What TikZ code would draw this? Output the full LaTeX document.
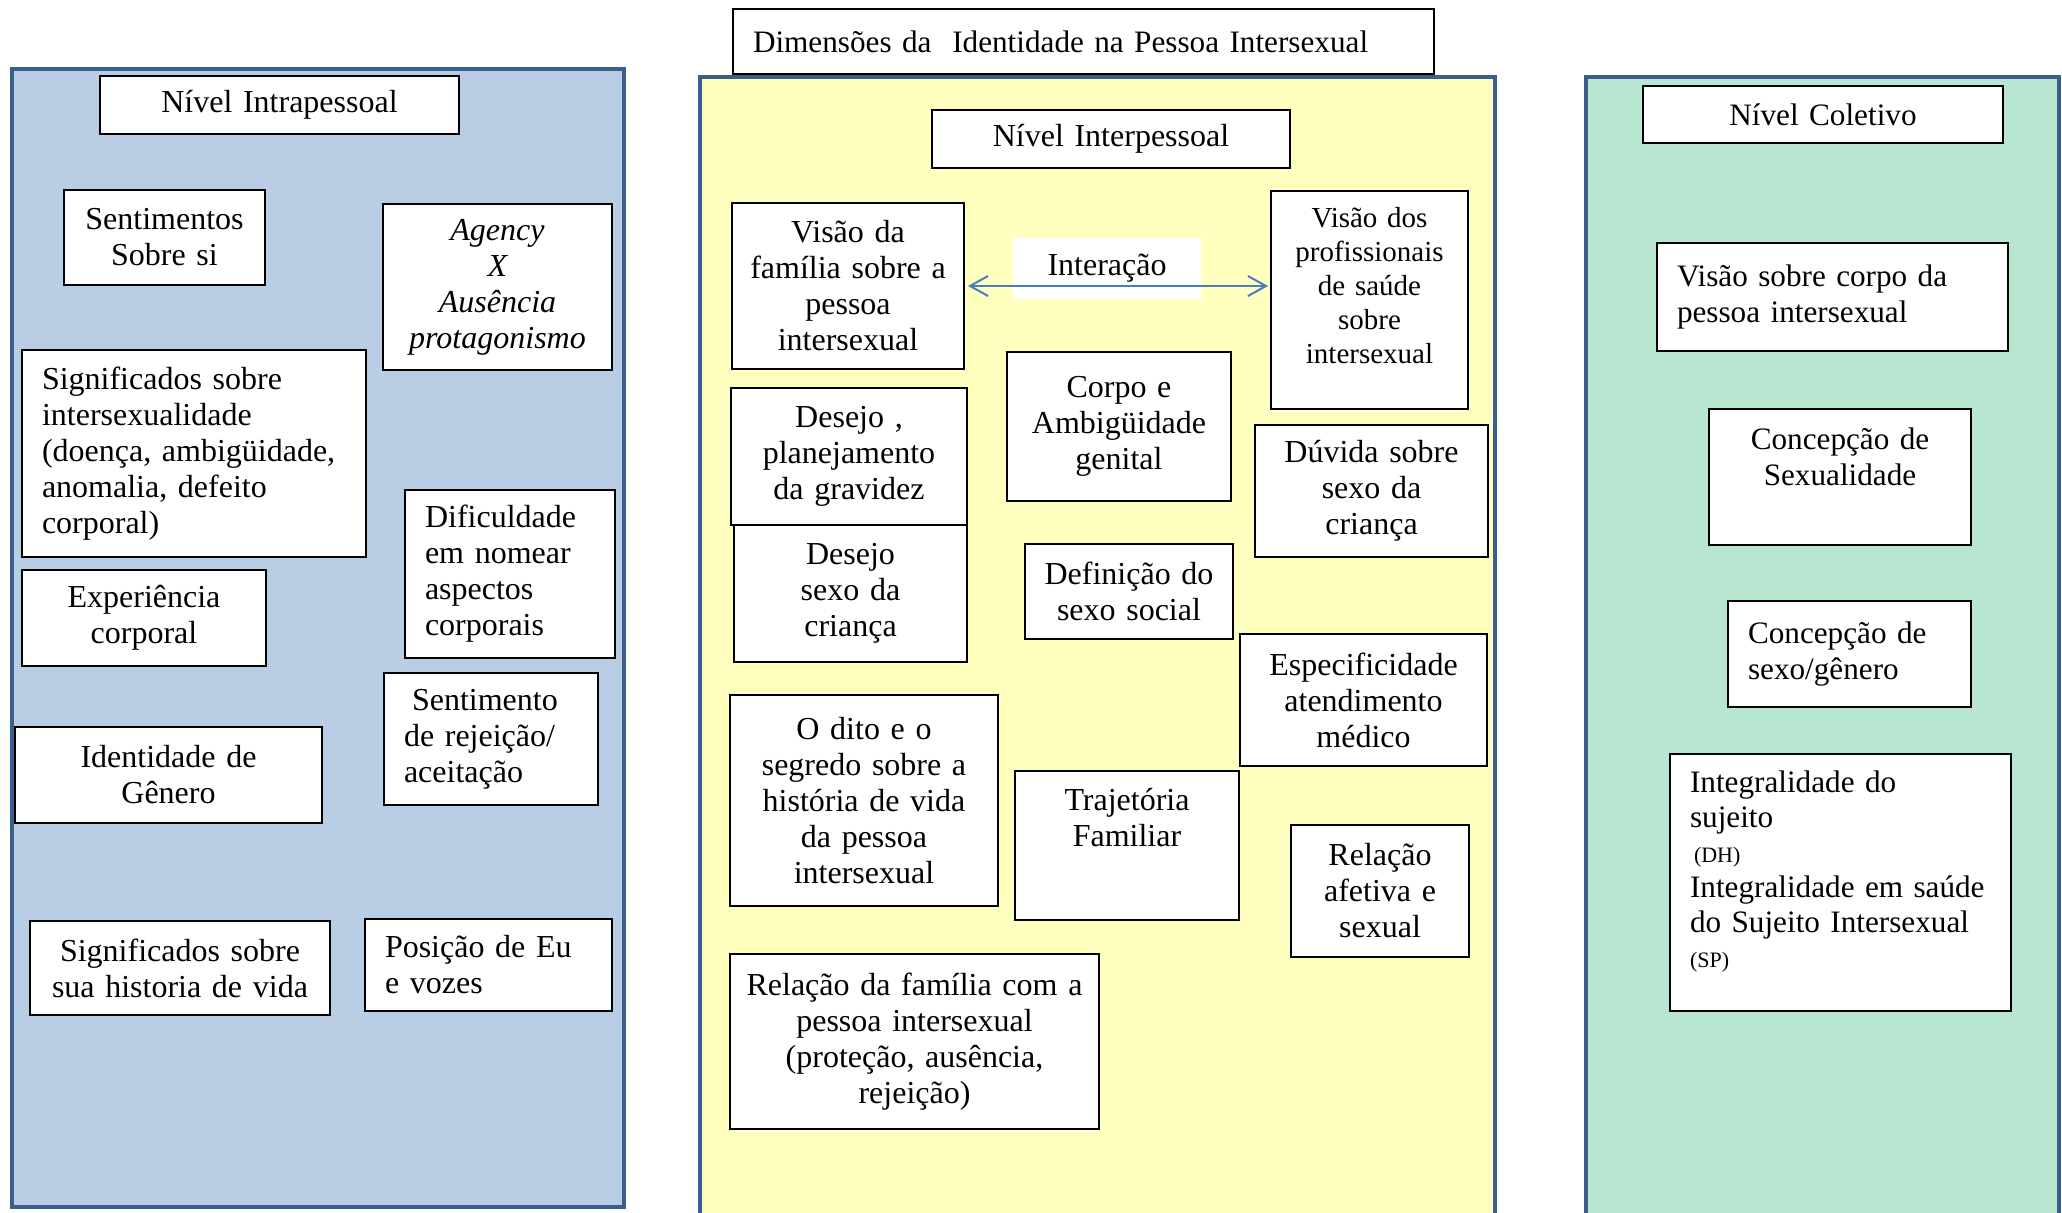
\documentclass[tikz,border=0pt]{standalone}
\usepackage{fontspec}
\setmainfont{Liberation Serif}
\usepackage{xcolor}
\usepackage{tikz}
\usetikzlibrary{arrows.meta,positioning}

\definecolor{azulpainel}{HTML}{B9CDE5}
\definecolor{amarelopainel}{HTML}{FFFFC0}
\definecolor{verdepainel}{HTML}{B9E6D0}
\definecolor{bordapainel}{HTML}{3A5F8B}
\definecolor{azulseta}{HTML}{4A7EBB}

\tikzset{
  painel/.style={draw=bordapainel, line width=2pt},
  caixa/.style={draw=black, line width=1pt, fill=white, anchor=north west,
    inner xsep=4pt, inner ysep=2pt, align=center,
    font=\fontsize{16}{18}\selectfont},
  caixaesq/.style={caixa, inner xsep=10pt, align=left},
  coletiva/.style={font=\fontsize{15.6}{18}\selectfont},
  seta/.style={<->, draw=azulseta, line width=1pt,
    >={Straight Barb[length=9pt,width=10pt]}}
}

\begin{document}
\begin{tikzpicture}[x=0.5pt,y=-0.5pt]
\useasboundingbox (0,0) rectangle (2062,1213);
\clip (0,0) rectangle (2062,1213);
%%the three panels
\draw[painel, fill=azulpainel] (12,69) rectangle (624,1207);
\draw[painel, fill=amarelopainel] (700,77) rectangle (1495,1260);
\draw[painel, fill=verdepainel] (1586,77) rectangle (2059,1260);
\node[caixaesq, minimum width=350.5pt, minimum height=32.5pt, text width=330.5pt,
  font=\fontsize{15.6}{18}\selectfont]
  (titulo) at (732,8) {Dimensões da\ \ Identidade na Pessoa Intersexual};
%%left panel
\node[caixa, minimum width=179.5pt, minimum height=29pt, text width=171.5pt]
  (intra) at (99,75) {Nível Intrapessoal};
\node[caixa, minimum width=100.5pt, minimum height=47.5pt, text width=92.5pt]
  (sentsi) at (63,189) {Sentimentos\\Sobre si};
\node[caixa, minimum width=114.5pt, minimum height=83pt, text width=106.5pt]
  (agency) at (382,203) {\itshape Agency\\X\\Ausência\\protagonismo};
\node[caixaesq, minimum width=172pt, minimum height=103.5pt, text width=152pt]
  (signif) at (21,349) {Significados sobre\\intersexualidade\\(doença, ambigüidade,\\anomalia, defeito\\corporal)};
\node[caixaesq, minimum width=105pt, minimum height=84pt, text width=85pt]
  (dificul) at (404,489) {Dificuldade\\em nomear\\aspectos\\corporais};
\node[caixa, minimum width=122pt, minimum height=48pt, text width=114pt]
  (experi) at (21,569) {Experiência\\corporal};
\node[caixaesq, minimum width=107pt, minimum height=66pt, text width=87pt]
  (rejeicao) at (383,672) {\hspace*{4pt}Sentimento\\de rejeição/\\aceitação};
\node[caixa, minimum width=153.5pt, minimum height=48pt, text width=145.5pt]
  (genero) at (14,726) {Identidade de\\Gênero};
\node[caixa, minimum width=150pt, minimum height=47pt, text width=142pt]
  (histvida) at (29,920) {Significados sobre\\sua historia de vida};
\node[caixaesq, minimum width=123.5pt, minimum height=46pt, text width=103.5pt]
  (posicao) at (364,918) {Posição de Eu\\e vozes};
%%middle panel
\node[caixa, minimum width=179pt, minimum height=29pt, text width=171pt]
  (inter) at (931,109) {Nível Interpessoal};
\node[caixa, minimum width=116pt, minimum height=83pt, text width=108pt]
  (famil) at (731,202) {Visão da\\família sobre a\\pessoa\\intersexual};
\node[caixa, minimum width=98.5pt, minimum height=109pt, text width=90.5pt,
  text height=15.5pt, text depth=87.5pt, font=\fontsize{14.5}{17}\selectfont]
  (prof) at (1270,190) {Visão dos\\profissionais\\de saúde\\sobre\\intersexual};
\node[fill=white, minimum width=94pt, minimum height=30.5pt,
  font=\fontsize{16}{18}\selectfont] (rotulo) at (1107,268.5) {Interação};
\draw[seta, shorten <=1.5pt, shorten >=1pt] (famil.east) -- (famil.east -| prof.west);
\node[caixa, minimum width=118pt, minimum height=68.5pt, text width=110pt]
  (desejo) at (730,387) {Desejo ,\\planejamento\\da gravidez};
\node[caixa, minimum width=116.5pt, minimum height=68.5pt, text width=108.5pt]
  (desejosexo) at (733,524) {Desejo\\sexo da\\criança};
\node[caixa, minimum width=112pt, minimum height=74.5pt, text width=104pt]
  (corpo) at (1006,351) {Corpo e\\Ambigüidade\\genital};
\node[caixa, minimum width=116.5pt, minimum height=66pt, text width=108.5pt]
  (duvida) at (1254,424) {Dúvida sobre\\sexo da\\criança};
\node[caixa, minimum width=104pt, minimum height=47.5pt, text width=96pt]
  (definicao) at (1024,543) {Definição do\\sexo social};
\node[caixa, minimum width=123.5pt, minimum height=66pt, text width=115.5pt]
  (especif) at (1239,633) {Especificidade\\atendimento\\médico};
\node[caixa, minimum width=134pt, minimum height=105.5pt, text width=126pt]
  (dito) at (729,694) {O dito e o\\segredo sobre a\\história de vida\\da pessoa\\intersexual};
\node[caixa, minimum width=112pt, minimum height=74.5pt, text width=104pt,
  text height=17.5pt, text depth=53pt]
  (trajet) at (1014,770) {Trajetória\\Familiar};
\node[caixa, minimum width=89pt, minimum height=66pt, text width=81pt]
  (afetiva) at (1290,824) {Relação\\afetiva e\\sexual};
\node[caixa, minimum width=184.5pt, minimum height=87.5pt, text width=176.5pt]
  (relfam) at (729,953) {Relação da família com a\\pessoa intersexual\\(proteção, ausência,\\rejeição)};
%%right panel
\node[caixa, coletiva, minimum width=180pt, minimum height=28.5pt, text width=172pt]
  (coletivo) at (1642,85) {Nível Coletivo};
\node[caixaesq, coletiva, minimum width=175.5pt, minimum height=54pt, text width=155.5pt]
  (visaocorpo) at (1656,242) {Visão sobre corpo da\\pessoa intersexual};
\node[caixa, coletiva, minimum width=131pt, minimum height=68pt, text width=123pt,
  text height=18.5pt, text depth=45.5pt]
  (sexual) at (1708,408) {Concepção de\\Sexualidade};
\node[caixaesq, coletiva, minimum width=121.5pt, minimum height=53pt, text width=101.5pt]
  (sexogen) at (1727,600) {Concepção de\\sexo/gênero};
\node[caixaesq, minimum width=170.5pt, minimum height=128.5pt, text width=150.5pt,
  text height=17pt, text depth=107.5pt, font=\fontsize{15.6}{17.5}\selectfont]
  (integral) at (1669,753) {Integralidade do\\sujeito\\\hspace*{2pt}{\fontsize{11}{13}\selectfont (DH)}\\\mbox{Integralidade em saúde}\\\mbox{do Sujeito Intersexual}\\{\fontsize{11}{13}\selectfont (SP)}};
\end{tikzpicture}
\end{document}
